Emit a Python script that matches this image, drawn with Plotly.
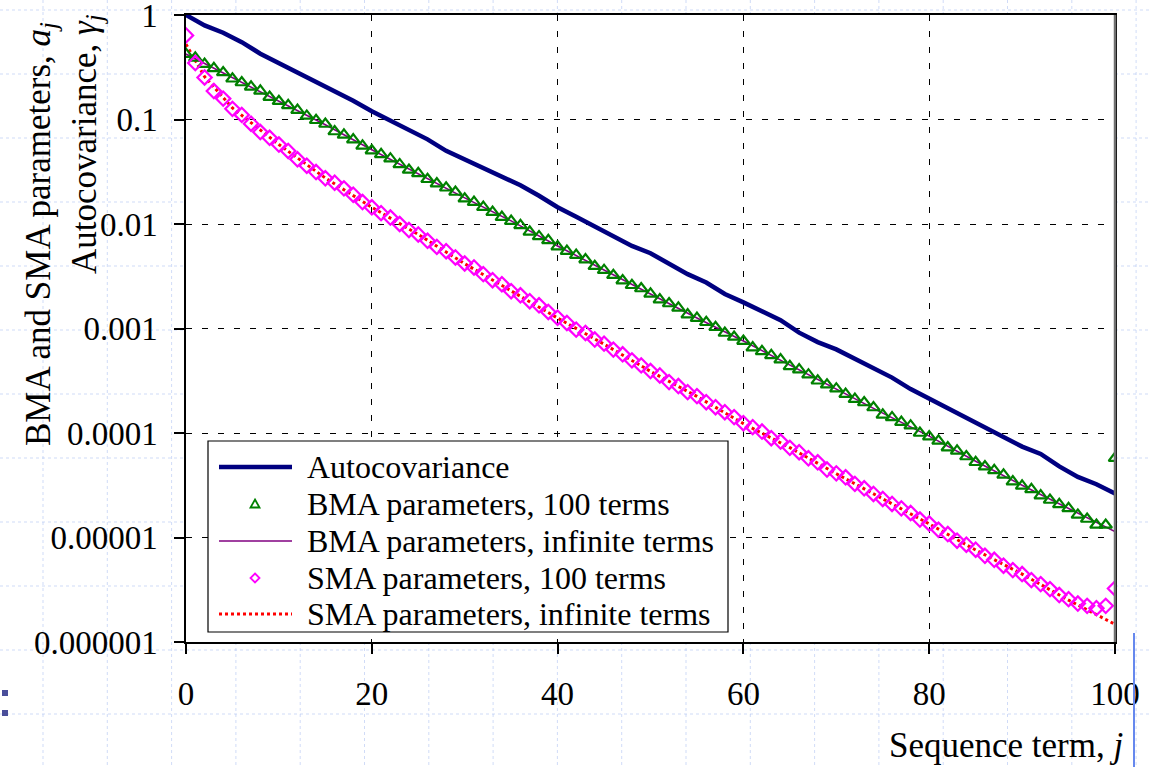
import numpy as np
import plotly.graph_objects as go

# ---------------- data (log10 of values) ----------------
j_all = list(range(0, 101))
j_even = list(range(0, 101, 2))
j_bma_inf = list(range(0, 101, 5))
j_sma_inf = [0, 1, 2] + list(range(5, 101, 5))

autocov_log10 = [
    0.00, -0.10, -0.17, -0.26, -0.37, -0.46, -0.54, -0.63, -0.72, -0.82,
    -0.92, -1.01, -1.11, -1.19, -1.30, -1.38, -1.46, -1.55, -1.63, -1.73,
    -1.84, -1.93, -2.02, -2.12, -2.21, -2.28, -2.38, -2.48, -2.56, -2.67,
    -2.75, -2.84, -2.92, -3.04, -3.13, -3.20, -3.29, -3.38, -3.47, -3.58,
    -3.67, -3.77, -3.85, -3.95, -4.04, -4.13, -4.20, -4.32, -4.42, -4.49,
    -4.58]

bma100_log10 = [
    -0.374, -0.410, -0.470, -0.510, -0.550, -0.610, -0.646, -0.687, -0.726, -0.785,
    -0.825, -0.865, -0.910, -0.966, -1.007, -1.043, -1.115, -1.147, -1.193, -1.252,
    -1.297, -1.333, -1.375, -1.430, -1.483, -1.515, -1.572, -1.614, -1.653, -1.694,
    -1.758, -1.790, -1.838, -1.886, -1.934, -1.972, -2.013, -2.075, -2.119, -2.157,
    -2.216, -2.260, -2.298, -2.340, -2.404, -2.442, -2.490, -2.541, -2.586, -2.617,
    -2.669, -2.723, -2.761, -2.803, -2.867, -2.900, -2.940, -2.988, -3.043, -3.081,
    -3.120, -3.183, -3.219, -3.257, -3.298, -3.362, -3.394, -3.442, -3.500, -3.538,
    -3.576, -3.628, -3.676, -3.708, -3.756, -3.826, -3.851, -3.896, -3.930, -4.000,
    -4.034, -4.075, -4.139, -4.171, -4.225, -4.280, -4.321, -4.357, -4.401, -4.465,
    -4.506, -4.539, -4.599, -4.641, -4.683, -4.721, -4.784, -4.823, -4.880, -4.880,
    -4.240]

bma_inf_log10 = [
    -0.374, -0.600, -0.820, -1.050, -1.290, -1.520, -1.750, -1.970, -2.210, -2.440,
    -2.670, -2.900, -3.120, -3.350, -3.580, -3.810, -4.030, -4.270, -4.500, -4.720,
    -4.944]

sma100_log10 = [
    -0.195, -0.460, -0.598, -0.728, -0.800, -0.898, -0.956, -1.040, -1.120, -1.175,
    -1.240, -1.301, -1.381, -1.442, -1.503, -1.563, -1.605, -1.659, -1.720, -1.790,
    -1.840, -1.896, -1.938, -2.000, -2.058, -2.100, -2.161, -2.219, -2.260, -2.320,
    -2.378, -2.416, -2.480, -2.538, -2.576, -2.643, -2.682, -2.739, -2.778, -2.842,
    -2.897, -2.947, -3.011, -3.043, -3.106, -3.145, -3.202, -3.247, -3.305, -3.353,
    -3.407, -3.449, -3.513, -3.551, -3.609, -3.647, -3.705, -3.753, -3.801, -3.848,
    -3.906, -3.944, -3.986, -4.050, -4.082, -4.142, -4.184, -4.242, -4.280, -4.350,
    -4.386, -4.424, -4.487, -4.529, -4.583, -4.631, -4.679, -4.721, -4.765, -4.828,
    -4.866, -4.926, -4.967, -5.031, -5.069, -5.117, -5.175, -5.213, -5.270, -5.312,
    -5.350, -5.408, -5.446, -5.494, -5.551, -5.590, -5.632, -5.654, -5.676, -5.654,
    -5.488]

sma_inf_log10 = [
    -0.280, -0.440, -0.590, -0.890, -1.240, -1.560, -1.840, -2.100, -2.380, -2.640,
    -2.900, -3.150, -3.410, -3.650, -3.910, -4.140, -4.390, -4.630, -4.870, -5.120,
    -5.350, -5.600, -5.830]

series_names = ["Autocovariance", "BMA parameters, 100 terms",
                "BMA parameters, infinite terms", "SMA parameters, 100 terms",
                "SMA parameters, infinite terms"]

y_tickvals = [1e-6, 1e-5, 1e-4, 1e-3, 1e-2, 1e-1, 1]
y_ticktext = ["0.000001", "0.00001", "0.0001", "0.001", "0.01", "0.1", "1"]
x_tickvals = [0, 20, 40, 60, 80, 100]


def pw(v):
    return np.power(10.0, np.array(v))


SERIF = "Liberation Serif, Times New Roman, serif"
NAVY, GREEN, PURPLE, MAGENTA, RED = "#000080", "#008000", "#800080", "#ff00ff", "#ff0000"

fig = go.Figure()
fig.add_trace(go.Scatter(x=j_bma_inf, y=pw(bma_inf_log10), mode="lines",
                         name=series_names[2], line=dict(color=PURPLE, width=1.6)))
fig.add_trace(go.Scatter(x=j_sma_inf, y=pw(sma_inf_log10), mode="lines",
                         name=series_names[4], line=dict(color=RED, width=3, dash="dot")))
fig.add_trace(go.Scatter(x=j_even, y=pw(autocov_log10), mode="lines",
                         name=series_names[0], line=dict(color=NAVY, width=4.5)))
fig.add_trace(go.Scatter(x=j_all, y=pw(bma100_log10), mode="markers",
                         name=series_names[1],
                         marker=dict(symbol="triangle-up-open", size=11, color=GREEN,
                                     line=dict(width=2.2, color=GREEN))))
fig.add_trace(go.Scatter(x=j_all, y=pw(sma100_log10), mode="markers",
                         name=series_names[3],
                         marker=dict(symbol="diamond-open", size=11, color=MAGENTA,
                                     line=dict(width=2.2, color=MAGENTA))))

# ---------------- layout helpers (pixel -> paper) ----------------
W, H = 1150, 767
L, R, T, B = 186, 35, 15, 125
PW, PH = W - L - R, H - T - B


def px_x(p):
    return (p - L) / PW


def px_y(p):
    return (H - B - p) / PH


shapes = []
bg_col = "rgba(170,190,240,0.55)"
vx = [43 + 64.3 * k for k in range(18)]
hy = [10 + 64.0 * k for k in range(12)]
for x in vx:
    segs = [(0, H)] if (x < L - 1 or x > L + PW + 1) else [(0, T), (T + PH, H)]
    for a, b in segs:
        shapes.append(dict(type="line", xref="paper", yref="paper",
                           x0=px_x(x), x1=px_x(x), y0=px_y(a), y1=px_y(b),
                           line=dict(color=bg_col, width=1, dash="3px,3px"), layer="below"))
for y in hy:
    segs = [(0, W)] if (y < T - 1 or y > T + PH + 1) else [(0, L), (L + PW, W)]
    for a, b in segs:
        shapes.append(dict(type="line", xref="paper", yref="paper",
                           x0=px_x(a), x1=px_x(b), y0=px_y(y), y1=px_y(y),
                           line=dict(color=bg_col, width=1, dash="3px,3px"), layer="below"))
# right border of plot area (grey)
shapes.append(dict(type="line", xref="paper", yref="paper", x0=1, x1=1, y0=0, y1=1,
                   line=dict(color="#707070", width=2.5)))
# slide decorations
shapes.append(dict(type="line", xref="paper", yref="paper",
                   x0=px_x(1134), x1=px_x(1134), y0=px_y(633), y1=px_y(767),
                   line=dict(color="#6688ee", width=2)))
for cy in [693, 713]:
    shapes.append(dict(type="rect", xref="paper", yref="paper",
                       x0=px_x(2), x1=px_x(8), y0=px_y(cy - 3), y1=px_y(cy + 3),
                       line=dict(width=0), fillcolor="#4a4e9a"))

# ---------------- legend box (drawn as in the original Excel chart) ----------------
LX0, LY0, LX1, LY1 = 208, 441, 728, 632
row_y = [467, 504, 541, 578, 614]
s_x0, s_x1, s_xc = 219, 292, 255
shapes.append(dict(type="rect", xref="paper", yref="paper",
                   x0=px_x(LX0), x1=px_x(LX1), y0=px_y(LY1), y1=px_y(LY0),
                   line=dict(color="black", width=1.2), fillcolor="white"))
shapes.append(dict(type="line", xref="paper", yref="paper",
                   x0=px_x(s_x0), x1=px_x(s_x1), y0=px_y(row_y[0]), y1=px_y(row_y[0]),
                   line=dict(color=NAVY, width=4.5)))
tri = "M {},{} L {},{} L {},{} Z".format(
    px_x(s_xc), px_y(row_y[1] - 4.5), px_x(s_xc + 4.5), px_y(row_y[1] + 3.5),
    px_x(s_xc - 4.5), px_y(row_y[1] + 3.5))
shapes.append(dict(type="path", xref="paper", yref="paper", path=tri,
                   line=dict(color=GREEN, width=1.8)))
shapes.append(dict(type="line", xref="paper", yref="paper",
                   x0=px_x(s_x0), x1=px_x(s_x1), y0=px_y(row_y[2]), y1=px_y(row_y[2]),
                   line=dict(color=PURPLE, width=1.6)))
dia = "M {},{} L {},{} L {},{} L {},{} Z".format(
    px_x(s_xc), px_y(row_y[3] - 4.5), px_x(s_xc + 4.5), px_y(row_y[3]),
    px_x(s_xc), px_y(row_y[3] + 4.5), px_x(s_xc - 4.5), px_y(row_y[3]))
shapes.append(dict(type="path", xref="paper", yref="paper", path=dia,
                   line=dict(color=MAGENTA, width=1.8)))
shapes.append(dict(type="line", xref="paper", yref="paper",
                   x0=px_x(s_x0), x1=px_x(s_x1), y0=px_y(row_y[4]), y1=px_y(row_y[4]),
                   line=dict(color=RED, width=3, dash="dot")))

annotations = []
for name, ry in zip(series_names, row_y):
    annotations.append(dict(text=name, xref="paper", yref="paper",
                            x=px_x(305), y=px_y(ry), xanchor="left", yanchor="middle",
                            showarrow=False,
                            font=dict(family=SERIF, size=32, color="black")))

annotations += [
    dict(text="BMA and SMA parameters, <i>a<sub>j</sub></i>", textangle=-90,
         xref="paper", yref="paper", x=px_x(40), y=px_y(20),
         xanchor="center", yanchor="top", showarrow=False,
         font=dict(family=SERIF, size=35, color="black")),
    dict(text="Autocovariance, <i>γ<sub>j</sub></i>", textangle=-90,
         xref="paper", yref="paper", x=px_x(86), y=px_y(12),
         xanchor="center", yanchor="top", showarrow=False,
         font=dict(family=SERIF, size=35, color="black")),
    dict(text="Sequence term, <i>j</i>",
         xref="paper", yref="paper", x=px_x(1125), y=px_y(745),
         xanchor="right", yanchor="middle", showarrow=False,
         font=dict(family=SERIF, size=35, color="black")),
]

fig.update_layout(
    width=W, height=H,
    margin=dict(l=L, r=R, t=T, b=B, pad=0, autoexpand=False),
    paper_bgcolor="white", plot_bgcolor="white",
    font=dict(family=SERIF, color="black"),
    showlegend=False,
    shapes=shapes,
    annotations=annotations,
)

fig.update_xaxes(range=[0, 100], tickvals=x_tickvals, ticks="outside", ticklen=10,
                 tickcolor="black", tickwidth=1.5,
                 showline=True, linecolor="black", linewidth=1.5, mirror=True,
                 showgrid=True, gridcolor="black", gridwidth=1, griddash="6px,10px",
                 zeroline=False, ticklabelstandoff=12, ticklabeloverflow="allow",
                 tickfont=dict(family=SERIF, size=33, color="black"))
fig.update_yaxes(type="log", range=[-6, 0], tickvals=y_tickvals, ticktext=y_ticktext,
                 ticks="outside", ticklen=10, tickcolor="black", tickwidth=1.5,
                 showline=True, linecolor="black", linewidth=1.5, mirror=True,
                 showgrid=True, gridcolor="black", gridwidth=1, griddash="6px,10px",
                 zeroline=False, ticklabelstandoff=10, ticklabeloverflow="allow",
                 tickfont=dict(family=SERIF, size=33, color="black"))

fig.write_html("out.html",
               config={"displayModeBar": False},
               post_script="document.body.style.margin='0';"
                           "document.body.style.overflow='hidden';")
